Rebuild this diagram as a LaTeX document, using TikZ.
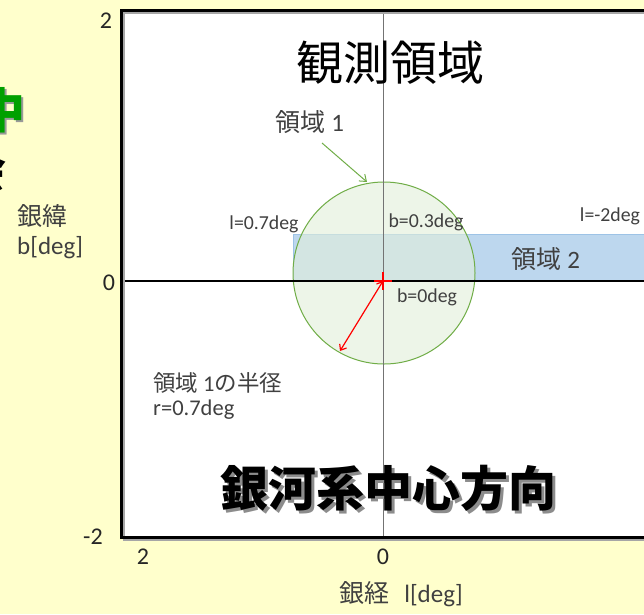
\documentclass[tikz,border=0pt]{standalone}
\usepackage{fontspec}
\setmainfont{Carlito}
\newfontfamily\jp{Noto Sans CJK JP}
\usetikzlibrary{arrows.meta}
\definecolor{bgc}{RGB}{255,255,204}
\definecolor{lblgray}{RGB}{64,64,64}
\definecolor{circfill}{RGB}{226,239,218}
\definecolor{circline}{RGB}{112,173,71}
\definecolor{rectfill}{RGB}{189,215,238}
\definecolor{rectline}{RGB}{157,195,230}
\definecolor{titlegreen}{RGB}{0,160,0}
\tikzset{
  lbl/.style={text=lblgray, inner sep=0pt, font=\fontsize{19.8}{22}\selectfont},
  tick/.style={text=black!85, inner sep=0pt, font=\fontsize{24}{26}\selectfont},
  jplbl/.style={text=lblgray, inner sep=0pt, font=\jp\fontsize{25}{28}\selectfont},
  big/.style={inner sep=0pt, font=\jp\fontsize{47}{50}\selectfont},
  bigbold/.style={inner sep=0pt, font=\jp\bfseries\fontsize{48}{50}\selectfont},
}
\begin{document}
\begin{tikzpicture}[x=1pt,y=-1pt]
\useasboundingbox (0,0) rectangle (644,614);
\fill[bgc] (0,0) rectangle (644,614);
% plot area
\fill[white] (121,10) rectangle (660,537);
% region 2 rectangle
\draw[rectline, fill=rectfill] (293,234) rectangle (660,281);
% region 1 circle
\node[circle, draw=circline, line width=1pt, fill=circfill, fill opacity=0.6, minimum size=182pt, inner sep=0pt] (c1) at (384,273) {};
% axes
\coordinate (vtop) at (383,10);
\coordinate (vbot) at (383,537);
\coordinate (hleft) at (121,281);
\coordinate (hright) at (660,281);
\draw[black!55, line width=0.8pt] (vtop) -- (vbot);
\draw[black, line width=1.5pt] (hleft) -- (hright);
% frame with shadow
\draw[black!35, line width=2pt] (660,12.5) -- (123.5,12.5) -- (123.5,539.5) -- (660,539.5);
\draw[black, line width=3pt] (660,10) -- (121,10) -- (121,537) -- (660,537);
% red radius arrow and cross
\coordinate (ctr) at (383,281);
\coordinate (rend) at (340,351);
\draw[red, line width=1.2pt] (374,281) -- (392,281) (383,272) -- (383,290);
\draw[red, line width=1.2pt, {Straight Barb[length=5pt,width=8pt]}-{Straight Barb[length=5pt,width=8pt]}] (ctr) -- (rend);
% tick labels
\node[tick] (ty2) at (106,21) {2};
\node[tick] (ty0) at (109,283) {0};
\node[tick] (tym2) at (93,537) {-2};
\node[tick] (tx2) at (143,557) {2};
\node[tick] (tx0) at (383,557) {0};
\node[tick] (txm2) at (653,557) {-2};
% axis labels
\node[jplbl, align=left, anchor=west] (ylab) at (17,232) {銀緯\\[1pt]{\rmfamily b[deg]}};
\node[jplbl, anchor=center] (xlab) at (401,594) {銀経\hspace{0.6em}{\rmfamily l[deg]}};
% title
\node[big] (title) at (390,63) {観測領域};
% region 1 label + arrow
\node[jplbl] (r1) at (310,122) {領域 {\rmfamily 1}};
\coordinate (r1a) at (322,143);
\coordinate (r1b) at (367,182);
\draw[circline, line width=1pt, -{Straight Barb[length=6pt,width=9pt]}] (r1a) -- (r1b);
% labels
\node[lbl] (l07) at (264,224) {l=0.7deg};
\node[lbl] (b03) at (426,222) {b=0.3deg};
\node[lbl] (lm2) at (610,216) {l=-2deg};
\node[lbl] (b0) at (427,297) {b=0deg};
\node[jplbl] (r2) at (546,259) {領域 {\rmfamily 2}};
\node[jplbl, anchor=west, font=\jp\fontsize{22.5}{25}\selectfont] (rad1) at (153,383) {領域 {\rmfamily 1}の半径};
\node[lbl, anchor=west, font=\fontsize{22.5}{25}\selectfont] (rad2) at (153,410) {r=0.7deg};
% big bold caption with shadow
\node[bigbold, text=black!45] (capsh) at (391,491) {銀河系中心方向};
\node[bigbold, text=black] (cap) at (388,488) {銀河系中心方向};
% partial texts at the left edge
\node[bigbold, text=black!40] (gsh) at (4,112) {中};
\node[bigbold, text=titlegreen] (g) at (2,110) {中};
\node[bigbold, text=black] (k) at (-17,170) {会};
\end{tikzpicture}
\end{document}
